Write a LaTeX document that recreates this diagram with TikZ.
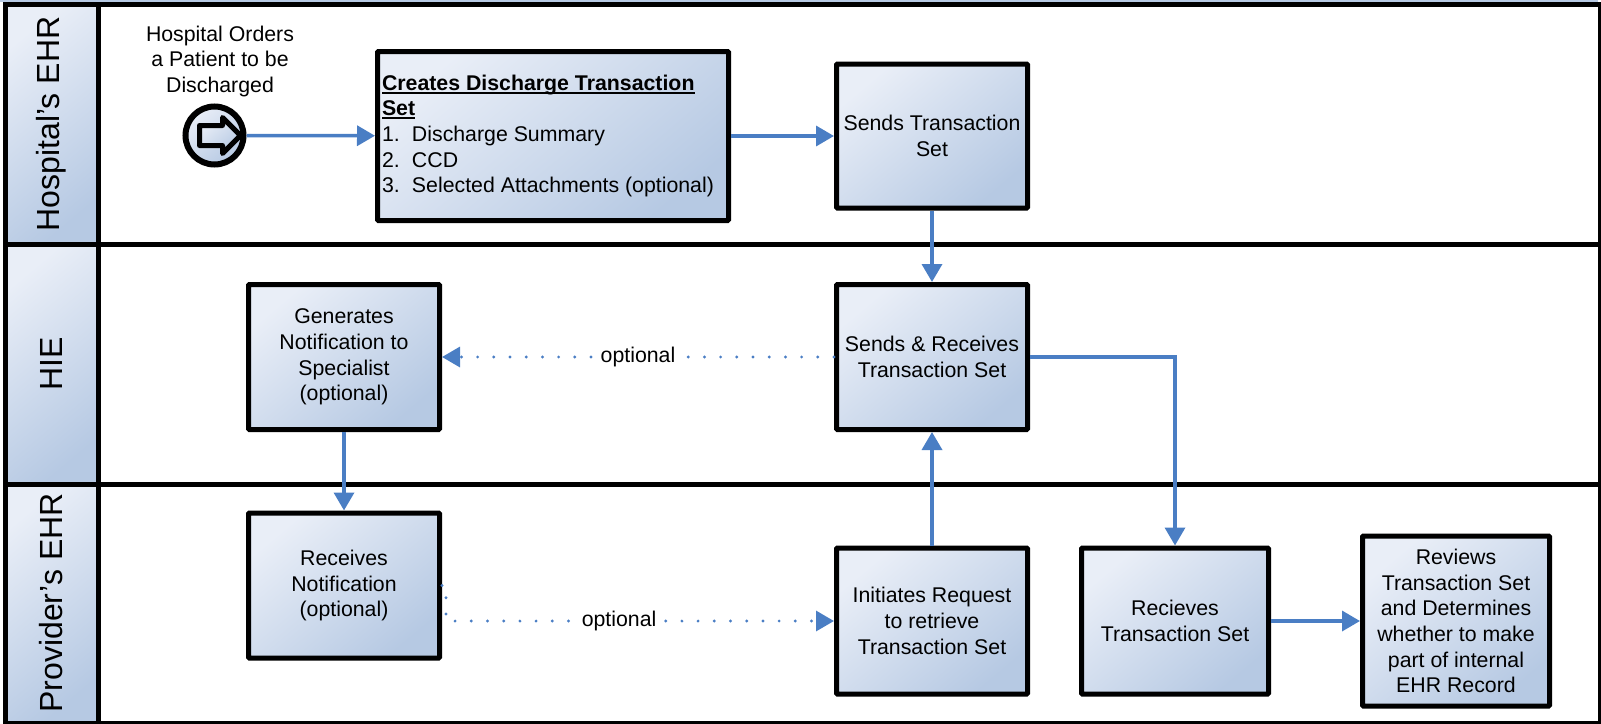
\documentclass[tikz,border=0pt]{standalone}
\usepackage{fontspec}
\setmainfont{Liberation Sans}
\usetikzlibrary{arrows.meta,shapes.arrows,positioning}
\definecolor{boxlight}{HTML}{E9EEF7}
\definecolor{boxmid}{HTML}{C8D5EA}
\definecolor{boxdark}{HTML}{B6C9E3}
\definecolor{flowblue}{HTML}{4A7EC4}
\newcommand{\ulhead}[1]{\setbox0\hbox{\textbf{#1}}\leavevmode\rlap{\raisebox{-3.6pt}{\rule{\wd0}{2pt}}}\box0}
\tikzset{
	boxfill/.style={left color=boxlight, middle color=boxmid, right color=boxdark, shading angle=40},
	process/.style={draw=black, line width=5pt, rounded corners=1pt, boxfill, align=center, inner sep=0pt, minimum width=#1},
	process/.default=191pt,
	lanebox/.style={draw=black, line width=5pt, anchor=north west, inner sep=0pt},
	lanetext/.style={rotate=90, font=\fontsize{32}{36}\selectfont},
	flow/.style={draw=flowblue, line width=3.5pt, -{Triangle[length=18pt,width=20pt]}},
	optflow/.style={draw=flowblue, line width=3.2pt, line cap=round, dash pattern=on 0pt off 16.2pt, -{Triangle[length=18pt,width=20pt]}}
}
\begin{document}
\begin{tikzpicture}[x=1pt,y=-1pt,font=\fontsize{21.3}{25.7}\selectfont]
	\fill[boxdark] (0,0) rectangle (1598,1.5);
	% lanes
	\foreach \n/\t/\y/\c/\h in {hosp/Hospital's EHR/1.5/124/240, hie/HIE/241.5/364/240, prov/Provider's EHR/481.5/603/239}{
		\node[lanebox, minimum width=1595.5pt, minimum height=\h pt] (lane\n) at (2.5,\y) {};
		\node[lanebox, boxfill, minimum width=93.5pt, minimum height=\h pt] (head\n) at (2.5,\y) {};
		\node[lanetext] (text\n) at (51,\c) {\t};
	}
	% hospital lane
	\node[circle, draw=black, line width=6pt, boxfill, minimum size=58pt, inner sep=0pt] (start) at (214.5,135.5) {};
	\node[single arrow, draw=black, line width=5pt, boxfill, inner xsep=0pt, inner ysep=7.5pt, minimum height=41pt, single arrow head extend=8pt, single arrow tip angle=90, line join=round] (startmark) at (215,135.5) {};
	\node[above=3pt of start, xshift=5.5pt, align=center] (order) {Hospital Orders\\a Patient to be\\Discharged};
	\node[process=351pt, minimum height=169pt, align=left] (create) at (553,136) {\begin{minipage}{342pt}\ulhead{Creates Discharge Transaction}\\
		\ulhead{Set}\\
		\hbox to 30pt{1.\hfil}Discharge Summary\\
		\hbox to 30pt{2.\hfil}CCD\\
		\hbox to 30pt{3.\hfil}Selected Attachments (optional)\end{minipage}};
	\node[process, minimum height=144pt] (send) at (932,136) {Sends Transaction\\Set};
	% hie lane
	\node[process, minimum height=145pt] (hub) at (932,357) {Sends \& Receives\\Transaction Set};
	\node[process, minimum height=145pt] (notify) at (344,357) {Generates\\Notification to\\Specialist\\(optional)};
	% provider lane
	\node[process, minimum height=145pt] (recvnote) at (344,585.5) {Receives\\Notification\\(optional)};
	\node[process, minimum height=146pt] (request) at (932,621) {Initiates Request\\to retrieve\\Transaction Set};
	\node[process=187pt, minimum height=146pt] (recvset) at (1175,621) {Recieves\\Transaction Set};
	\node[process=187pt, minimum height=170pt] (review) at (1456,621) {Reviews\\Transaction Set\\and Determines\\whether to make\\part of internal\\EHR Record};
	% connectors
	\draw[flow] (start) -- (create);
	\draw[flow] (create) -- (send);
	\draw[flow] (send) -- (hub);
	\draw[flow] (notify) -- (recvnote);
	\draw[flow] (request) -- (hub);
	\draw[flow] (hub.east) -| (recvset.north);
	\draw[flow] (recvset) -- (review);
	\draw[optflow] (hub) -- (notify) node[pos=0.5, fill=white, inner sep=3pt] (labelhub) {optional};
	\draw[optflow] (recvnote.east) -- ++(4,0) |- (request.west) node[pos=0.723, fill=white, inner sep=2pt] (labelnote) {optional};
	\pgfresetboundingbox
	\useasboundingbox (0,0) rectangle (1601,723);
\end{tikzpicture}
\end{document}
